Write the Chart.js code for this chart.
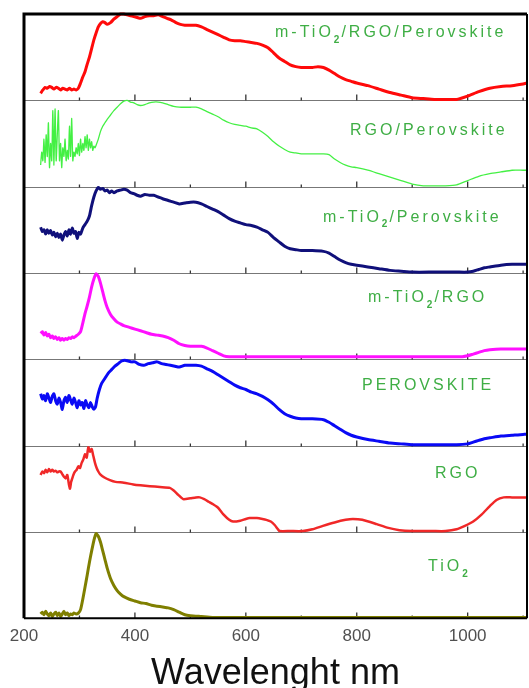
<!DOCTYPE html>
<html>
<head>
<meta charset="utf-8">
<script src="https://cdn.jsdelivr.net/npm/chart.js@4/dist/chart.umd.min.js"></script>
<style>
  html, body { margin: 0; padding: 0; background: #fff; }
  #wrap { width: 529px; height: 688px; position: relative; }
</style>
</head>
<body>
<div id="wrap"><canvas id="spectra"></canvas></div>
<script>
// panel names, top to bottom
const panelNames = ['m-TiO_2/RGO/Perovskite', 'RGO/Perovskite', 'm-TiO_2/Perovskite', 'm-TiO_2/RGO', 'PEROVSKITE', 'RGO', 'TiO_2'];

// m-TiO2/RGO/Perovskite
const wlTiRgoPer = [230,234,238,242,246,250,254,258,262,266,270,274,278,282,286,290,294,298,302,306,310,314,318,322,326,330,334,338,342,346,350,356,362,368,374,380,386,392,398,404,410,418,426,434,442,450,458,466,474,482,490,500,510,520,530,540,550,560,570,580,590,600,610,620,630,640,650,660,670,680,690,700,710,720,730,740,750,760,770,780,790,800,820,840,860,880,900,920,940,960,980,1000,1020,1040,1060,1080,1100,1107];
const absTiRgoPer = [0.08,0.12,0.15,0.14,0.16,0.15,0.13,0.15,0.14,0.12,0.14,0.13,0.12,0.14,0.12,0.13,0.12,0.14,0.2,0.27,0.33,0.42,0.5,0.6,0.7,0.78,0.85,0.89,0.91,0.9,0.88,0.9,0.94,0.97,1.0,1.0,0.99,0.98,0.97,0.96,0.95,0.97,0.98,0.98,0.99,0.97,0.95,0.93,0.9,0.88,0.87,0.87,0.87,0.85,0.82,0.79,0.76,0.73,0.7,0.69,0.69,0.68,0.67,0.66,0.64,0.61,0.55,0.49,0.45,0.41,0.39,0.38,0.38,0.38,0.39,0.38,0.35,0.31,0.27,0.24,0.22,0.2,0.17,0.13,0.09,0.06,0.03,0.02,0.01,0.01,0.01,0.05,0.1,0.14,0.16,0.17,0.19,0.2];

// RGO/Perovskite
const wlRgoPer = [230,232,234,236,238,240,242,244,246,248,250,252,254,256,258,260,262,264,266,268,270,272,274,276,278,280,282,284,286,288,290,292,294,296,298,300,302,304,306,308,310,312,314,316,318,320,322,324,326,328,330,334,338,342,346,350,356,362,368,374,380,386,392,398,404,410,418,426,434,442,450,460,470,480,490,500,510,520,530,540,550,560,570,580,590,600,610,620,630,640,650,660,670,680,690,700,720,740,750,760,770,780,790,800,820,840,860,880,900,920,940,960,980,1000,1020,1040,1060,1080,1100,1107];
const absRgoPer = [0.25,0.4,0.3,0.55,0.28,0.6,0.35,0.74,0.22,0.5,0.3,0.88,0.25,0.9,0.3,0.6,0.88,0.3,0.5,0.22,0.45,0.35,0.55,0.3,0.42,0.32,0.7,0.35,0.79,0.3,0.4,0.35,0.45,0.38,0.5,0.36,0.55,0.4,0.5,0.42,0.58,0.45,0.6,0.42,0.55,0.45,0.52,0.42,0.47,0.45,0.48,0.55,0.64,0.7,0.74,0.78,0.83,0.88,0.92,0.96,0.99,1.0,0.98,0.97,0.95,0.94,0.95,0.97,0.98,0.98,0.97,0.95,0.93,0.92,0.92,0.92,0.92,0.9,0.87,0.84,0.81,0.77,0.74,0.72,0.71,0.7,0.68,0.67,0.63,0.58,0.52,0.47,0.43,0.4,0.39,0.38,0.38,0.38,0.37,0.32,0.28,0.25,0.23,0.22,0.19,0.15,0.11,0.07,0.03,0.01,0.01,0.01,0.02,0.07,0.12,0.15,0.17,0.19,0.19,0.19];

// m-TiO2/Perovskite
const wlTiPer = [230,233,236,239,242,245,248,251,254,257,260,263,266,269,272,275,278,281,284,287,290,293,296,299,302,306,310,314,318,322,326,330,334,338,342,346,350,354,358,362,368,374,380,386,392,398,404,410,418,426,434,442,450,460,470,480,490,500,510,520,530,540,550,560,570,580,590,600,610,620,630,640,650,660,670,680,690,700,720,740,750,760,770,780,790,800,820,840,860,880,900,940,980,1000,1010,1020,1030,1040,1060,1080,1100,1107];
const absTiPer = [0.53,0.48,0.5,0.45,0.5,0.46,0.49,0.44,0.47,0.42,0.46,0.41,0.45,0.38,0.44,0.48,0.43,0.5,0.45,0.52,0.46,0.48,0.4,0.47,0.45,0.52,0.56,0.6,0.66,0.78,0.88,0.95,0.99,0.97,0.98,0.95,0.96,0.93,0.95,0.93,0.95,0.96,0.97,0.96,0.93,0.92,0.9,0.89,0.91,0.9,0.9,0.88,0.86,0.84,0.82,0.8,0.81,0.82,0.82,0.8,0.77,0.74,0.71,0.67,0.63,0.6,0.58,0.56,0.55,0.53,0.5,0.47,0.41,0.36,0.31,0.28,0.27,0.26,0.26,0.25,0.23,0.19,0.15,0.12,0.1,0.09,0.07,0.05,0.03,0.02,0.01,0.01,0.01,0.01,0.02,0.04,0.06,0.07,0.09,0.1,0.1,0.1];

// m-TiO2/RGO
const wlTiRgo = [230,233,236,239,242,245,248,251,254,257,260,263,266,269,272,275,278,281,284,287,290,294,298,302,306,310,314,318,322,326,330,334,338,342,346,350,356,362,368,374,380,390,400,410,420,430,440,450,460,470,480,490,500,510,520,530,540,550,560,570,600,650,700,750,800,850,900,950,990,1000,1010,1020,1030,1040,1060,1080,1100,1107];
const absTiRgo = [0.3,0.32,0.28,0.31,0.27,0.29,0.25,0.27,0.24,0.26,0.23,0.25,0.22,0.24,0.22,0.24,0.23,0.25,0.24,0.26,0.25,0.27,0.29,0.32,0.42,0.53,0.62,0.72,0.84,0.93,0.99,0.96,0.88,0.78,0.68,0.6,0.52,0.47,0.43,0.41,0.39,0.37,0.35,0.33,0.31,0.29,0.28,0.27,0.25,0.22,0.18,0.16,0.15,0.15,0.15,0.13,0.1,0.07,0.04,0.03,0.03,0.03,0.03,0.03,0.03,0.03,0.03,0.03,0.03,0.04,0.06,0.08,0.1,0.11,0.12,0.12,0.12,0.12];

// PEROVSKITE
const wlPer = [230,233,236,239,242,245,248,251,254,257,260,263,266,269,272,275,278,281,284,287,290,293,296,299,302,305,308,311,314,317,320,323,326,329,332,336,340,346,352,358,364,370,376,382,388,394,400,408,416,424,432,440,448,456,464,472,480,490,500,510,520,530,540,550,560,570,580,590,600,610,620,630,640,650,660,670,680,690,700,720,740,750,760,770,780,790,800,820,840,860,880,900,940,980,1000,1010,1020,1030,1040,1060,1080,1100,1107];
const absPer = [0.6,0.54,0.58,0.52,0.6,0.55,0.5,0.57,0.6,0.52,0.48,0.55,0.5,0.42,0.52,0.56,0.5,0.58,0.53,0.48,0.55,0.5,0.44,0.52,0.47,0.5,0.43,0.52,0.47,0.44,0.5,0.45,0.42,0.45,0.55,0.65,0.72,0.78,0.84,0.88,0.92,0.95,0.98,0.99,0.98,0.97,0.97,0.94,0.93,0.95,0.96,0.97,0.95,0.94,0.93,0.92,0.91,0.93,0.93,0.93,0.92,0.89,0.86,0.82,0.78,0.74,0.7,0.67,0.65,0.62,0.6,0.57,0.53,0.48,0.42,0.37,0.34,0.32,0.31,0.31,0.3,0.27,0.23,0.19,0.15,0.12,0.1,0.07,0.05,0.03,0.02,0.01,0.01,0.01,0.02,0.04,0.06,0.08,0.09,0.11,0.12,0.13,0.13];

// RGO
const wlRgo = [230,233,236,239,242,245,248,251,254,257,260,263,266,269,272,275,278,281,283,285,287,289,292,295,298,301,304,307,310,313,316,319,322,325,328,331,334,337,345,355,365,380,397,410,427,445,463,470,478,487,500,510,517,525,533,541,550,560,570,577,590,600,607,620,630,637,645,652,658,661,680,703,720,739,760,780,793,810,836,855,877,900,937,960,980,995,1010,1025,1040,1052,1065,1080,1100,1107];
const absRgo = [0.66,0.7,0.68,0.72,0.69,0.73,0.7,0.72,0.7,0.71,0.69,0.7,0.7,0.67,0.64,0.62,0.66,0.55,0.5,0.58,0.62,0.66,0.7,0.72,0.76,0.74,0.8,0.84,0.9,0.86,0.98,0.93,0.96,0.88,0.8,0.74,0.7,0.67,0.63,0.6,0.58,0.57,0.55,0.54,0.53,0.52,0.51,0.48,0.43,0.38,0.39,0.4,0.4,0.38,0.35,0.32,0.28,0.2,0.14,0.12,0.13,0.15,0.16,0.16,0.15,0.14,0.12,0.08,0.03,0.01,0.01,0.01,0.03,0.07,0.11,0.14,0.15,0.14,0.09,0.05,0.02,0.01,0.01,0.01,0.03,0.07,0.12,0.2,0.3,0.37,0.4,0.4,0.4,0.4];

// TiO2
const wlTi = [230,233,236,239,242,245,248,251,254,257,260,263,266,269,272,275,278,281,284,287,290,294,298,302,306,310,314,318,322,326,330,334,338,342,346,350,356,362,368,374,380,390,400,410,420,430,440,450,460,470,480,490,500,520,540,600,700,800,900,1000,1100,1107];
const absTi = [0.05,0.07,0.04,0.08,0.05,0.03,0.06,0.02,0.05,0.07,0.03,0.06,0.02,0.05,0.08,0.04,0.06,0.03,0.05,0.04,0.06,0.05,0.06,0.1,0.22,0.36,0.5,0.65,0.78,0.9,0.98,0.95,0.88,0.78,0.68,0.58,0.46,0.38,0.32,0.28,0.25,0.22,0.2,0.18,0.17,0.15,0.14,0.13,0.12,0.1,0.07,0.04,0.03,0.02,0.01,0.01,0.01,0.01,0.01,0.01,0.01,0.01];

const xTicks = [200, 400, 600, 800, 1000];

// styling, top panel first
const seriesX = [wlTiRgoPer, wlRgoPer, wlTiPer, wlTiRgo, wlPer, wlRgo, wlTi];
const seriesY = [absTiRgoPer, absRgoPer, absTiPer, absTiRgo, absPer, absRgo, absTi];
const lineColors = ['#ff0a0a', '#44f044', '#10107a', '#ff10ff', '#0a0af5', '#f02828', '#7f7f00'];
const lineWidths = [3, 1.3, 3, 3, 3, 2.5, 3];
const labelPos = [[275, 19], [350, 30], [323, 31], [368, 25], [362, 26], [435, 28], [428, 35]];

const panelIds = panelNames.map((n, i) => 'p' + i);
const fontFam = 'Liberation Sans, Arial, sans-serif';

// stacked y axes: later ones are placed on top, so add the bottom panel first
const scales = {
  x: {
    type: 'linear',
    min: 200,
    max: 1107,
    grid: { display: false },
    border: { display: false },
    ticks: {
      includeBounds: false,
      padding: 0,
      color: '#505050',
      font: { family: fontFam, size: 17 },
      callback: v => String(v)
    },
    afterBuildTicks: axis => { axis.ticks = xTicks.map(v => ({ value: v })); },
    title: {
      display: true,
      text: 'Wavelenght nm',
      color: '#111',
      padding: { top: 14, bottom: 0 },
      font: { family: fontFam, size: 36, lineHeight: 0.76 }
    }
  }
};
for (let i = panelIds.length - 1; i >= 0; i--) {
  scales[panelIds[i]] = {
    type: 'linear',
    position: 'left',
    stack: 'panels',
    stackWeight: 1,
    min: 0,
    max: 1,
    display: false
  };
}

const datasets = panelNames.map((name, i) => ({
  label: name.replace('_', ''),
  data: seriesX[i].map((x, j) => ({ x, y: seriesY[i][j] })),
  yAxisID: panelIds[i],
  borderColor: lineColors[i],
  borderWidth: lineWidths[i],
  pointRadius: 0,
  tension: 0.2,
  clip: 3
}));

const panelFrame = {
  id: 'panelFrame',
  beforeDatasetsDraw(chart) {
    const ctx = chart.ctx;
    const a = chart.chartArea;
    const xs = chart.scales.x;
    ctx.save();
    panelIds.forEach((id, i) => {
      const s = chart.scales[id];
      const y = Math.round(s.bottom) + 0.5;
      if (i < panelIds.length - 1) {
        ctx.strokeStyle = '#777';
        ctx.lineWidth = 1.2;
        ctx.beginPath();
        ctx.moveTo(a.left, y);
        ctx.lineTo(a.right, y);
        ctx.stroke();
      }
      // inward ticks at the bottom of every panel
      ctx.strokeStyle = '#333';
      ctx.lineWidth = 1.3;
      for (let v = 300; v <= 1100; v += 100) {
        const px = xs.getPixelForValue(v);
        const len = v % 200 === 0 ? 6 : 3;
        ctx.beginPath();
        ctx.moveTo(px, y);
        ctx.lineTo(px, y - len);
        ctx.stroke();
      }
    });
    ctx.restore();
  },
  afterDatasetsDraw(chart) {
    const ctx = chart.ctx;
    const a = chart.chartArea;
    ctx.save();
    ctx.strokeStyle = '#000';
    ctx.lineWidth = 3;
    ctx.beginPath();
    ctx.moveTo(a.left, a.bottom);
    ctx.lineTo(a.left, a.top);
    ctx.lineTo(a.right, a.top);
    ctx.stroke();
    ctx.lineWidth = 2;
    ctx.beginPath();
    ctx.moveTo(a.right, a.top);
    ctx.lineTo(a.right, a.bottom);
    ctx.moveTo(a.left, a.bottom);
    ctx.lineTo(a.right, a.bottom);
    ctx.stroke();

    // panel names in green, with subscript digits
    ctx.fillStyle = '#3fae45';
    ctx.textBaseline = 'middle';
    panelNames.forEach((name, i) => {
      const s = chart.scales[panelIds[i]];
      let x = a.left + labelPos[i][0] - 24;
      const y = s.top + labelPos[i][1];
      name.split(/(_\d)/).filter(p => p).forEach(part => {
        if (part[0] === '_') {
          ctx.font = 'bold 10px ' + fontFam;
          ctx.letterSpacing = '2px';
          ctx.fillText(part.slice(1), x, y + 7);
          x += ctx.measureText(part.slice(1)).width;
        } else {
          ctx.font = '16px ' + fontFam;
          ctx.letterSpacing = '3px';
          ctx.fillText(part, x, y);
          x += ctx.measureText(part).width;
        }
      });
    });
    ctx.restore();
  }
};

new Chart(document.getElementById('spectra'), {
  type: 'line',
  data: { datasets },
  options: {
    responsive: true,
    maintainAspectRatio: false,
    animation: false,
    layout: { padding: { left: 24, top: 14, right: 2, bottom: 0 } },
    scales,
    plugins: {
      legend: { display: false },
      tooltip: { enabled: false }
    }
  },
  plugins: [panelFrame]
});
</script>
</body>
</html>
